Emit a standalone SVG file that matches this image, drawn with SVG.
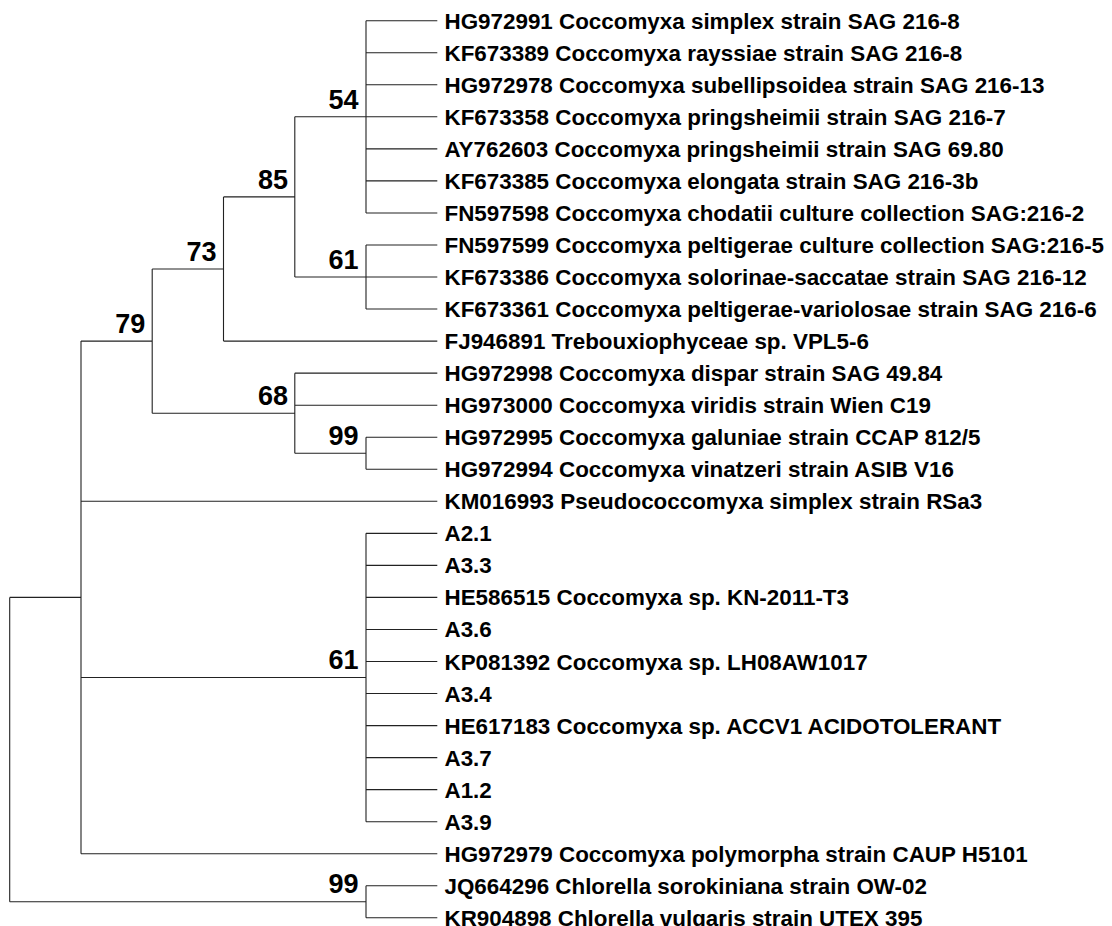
<svg xmlns="http://www.w3.org/2000/svg" width="1112" height="926" viewBox="0 0 1112 926">
<style>
.br{fill:none;stroke:#222;stroke-width:1.1}
.lf{font-family:"Liberation Sans",Arial,sans-serif;font-weight:bold;font-size:22.4px;fill:#000}
.bs{font-family:"Liberation Sans",Arial,sans-serif;font-weight:bold;font-size:27px;fill:#000;text-anchor:end}
</style>
<rect width="1112" height="926" fill="#fff"/>
<g id="connectors" class="br">
<path d="M366 20.7V212.94 M294.8 116.82H437.3 M366 20.7H437.3 M366 52.74H437.3 M366 84.78H437.3 M366 148.86H437.3 M366 180.9H437.3 M366 212.94H437.3"/>
<path d="M366 244.98V309.06 M294.8 277.02H437.3 M366 244.98H437.3 M366 309.06H437.3"/>
<path d="M294.8 116.82V277.02 M223.5 196.92H294.8"/>
<path d="M223.5 196.92V341.1 M152.2 269.01H223.5 M223.5 341.1H437.3"/>
<path d="M366 437.22V469.26 M294.8 453.24H366 M366 437.22H437.3 M366 469.26H437.3"/>
<path d="M294.8 373.14V453.24 M152.2 413.19H294.8 M294.8 373.14H437.3 M294.8 405.18H437.3"/>
<path d="M152.2 269.01V413.19 M81 341.1H152.2"/>
<path d="M366 533.34V821.7 M81 677.52H366 M366 533.34H437.3 M366 565.38H437.3 M366 597.42H437.3 M366 629.46H437.3 M366 661.5H437.3 M366 693.54H437.3 M366 725.58H437.3 M366 757.62H437.3 M366 789.66H437.3 M366 821.7H437.3"/>
<path d="M81 341.1V853.74 M9.7 597.42H81 M81 501.3H437.3 M81 853.74H437.3"/>
<path d="M366 885.78V917.82 M9.7 901.8H366 M366 885.78H437.3 M366 917.82H437.3"/>
<path d="M9.7 597.42V901.8"/>
</g>
<g id="bootstrap">
<g id="n54"><text class="bs" x="358.5" y="108.5">54</text></g>
<g id="n85"><text class="bs" x="288" y="188.5">85</text></g>
<g id="n73"><text class="bs" x="216.5" y="260.7">73</text></g>
<g id="n61a"><text class="bs" x="358.5" y="268.6">61</text></g>
<g id="n79"><text class="bs" x="145.2" y="332.8">79</text></g>
<g id="n68"><text class="bs" x="288" y="404.9">68</text></g>
<g id="n99a"><text class="bs" x="358.5" y="444.9">99</text></g>
<g id="n61b"><text class="bs" x="358.5" y="669.2">61</text></g>
<g id="n99b"><text class="bs" x="358.5" y="893.4">99</text></g>
</g>
<g id="leaves">
<g id="leaf1"><text class="lf" x="444.5" y="28.7">HG972991 Coccomyxa simplex strain SAG 216-8</text></g>
<g id="leaf2"><text class="lf" x="444.5" y="60.74">KF673389 Coccomyxa rayssiae strain SAG 216-8</text></g>
<g id="leaf3"><text class="lf" x="444.5" y="92.78">HG972978 Coccomyxa subellipsoidea strain SAG 216-13</text></g>
<g id="leaf4"><text class="lf" x="444.5" y="124.82">KF673358 Coccomyxa pringsheimii strain SAG 216-7</text></g>
<g id="leaf5"><text class="lf" x="444.5" y="156.86">AY762603 Coccomyxa pringsheimii strain SAG 69.80</text></g>
<g id="leaf6"><text class="lf" x="444.5" y="188.9">KF673385 Coccomyxa elongata strain SAG 216-3b</text></g>
<g id="leaf7"><text class="lf" x="444.5" y="220.94">FN597598 Coccomyxa chodatii culture collection SAG:216-2</text></g>
<g id="leaf8"><text class="lf" x="444.5" y="252.98">FN597599 Coccomyxa peltigerae culture collection SAG:216-5</text></g>
<g id="leaf9"><text class="lf" x="444.5" y="285.02">KF673386 Coccomyxa solorinae-saccatae strain SAG 216-12</text></g>
<g id="leaf10"><text class="lf" x="444.5" y="317.06">KF673361 Coccomyxa peltigerae-variolosae strain SAG 216-6</text></g>
<g id="leaf11"><text class="lf" x="444.5" y="349.1">FJ946891 Trebouxiophyceae sp. VPL5-6</text></g>
<g id="leaf12"><text class="lf" x="444.5" y="381.14">HG972998 Coccomyxa dispar strain SAG 49.84</text></g>
<g id="leaf13"><text class="lf" x="444.5" y="413.18">HG973000 Coccomyxa viridis strain Wien C19</text></g>
<g id="leaf14"><text class="lf" x="444.5" y="445.22">HG972995 Coccomyxa galuniae strain CCAP 812/5</text></g>
<g id="leaf15"><text class="lf" x="444.5" y="477.26">HG972994 Coccomyxa vinatzeri strain ASIB V16</text></g>
<g id="leaf16"><text class="lf" x="444.5" y="509.3">KM016993 Pseudococcomyxa simplex strain RSa3</text></g>
<g id="leaf17"><text class="lf" x="444.5" y="541.34">A2.1</text></g>
<g id="leaf18"><text class="lf" x="444.5" y="573.38">A3.3</text></g>
<g id="leaf19"><text class="lf" x="444.5" y="605.42">HE586515 Coccomyxa sp. KN-2011-T3</text></g>
<g id="leaf20"><text class="lf" x="444.5" y="637.46">A3.6</text></g>
<g id="leaf21"><text class="lf" x="444.5" y="669.5">KP081392 Coccomyxa sp. LH08AW1017</text></g>
<g id="leaf22"><text class="lf" x="444.5" y="701.54">A3.4</text></g>
<g id="leaf23"><text class="lf" x="444.5" y="733.58">HE617183 Coccomyxa sp. ACCV1 ACIDOTOLERANT</text></g>
<g id="leaf24"><text class="lf" x="444.5" y="765.62">A3.7</text></g>
<g id="leaf25"><text class="lf" x="444.5" y="797.66">A1.2</text></g>
<g id="leaf26"><text class="lf" x="444.5" y="829.7">A3.9</text></g>
<g id="leaf27"><text class="lf" x="444.5" y="861.74">HG972979 Coccomyxa polymorpha strain CAUP H5101</text></g>
<g id="leaf28"><text class="lf" x="444.5" y="893.78">JQ664296 Chlorella sorokiniana strain OW-02</text></g>
<g id="leaf29"><text class="lf" x="444.5" y="925.82">KR904898 Chlorella vulgaris strain UTEX 395</text></g>
</g>
</svg>
